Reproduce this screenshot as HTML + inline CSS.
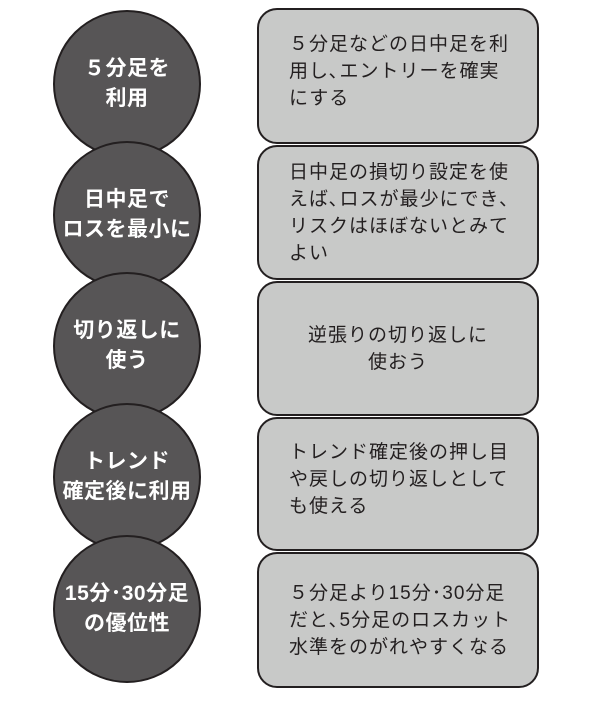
<!DOCTYPE html>
<html><head><meta charset="utf-8"><style>
body{margin:0;width:600px;height:714px;background:#fff;position:relative;overflow:hidden;font-family:"Liberation Sans","Noto Sans CJK JP",sans-serif;}
.c{position:absolute;left:53px;width:144px;height:144px;border-radius:50%;background:#575556;border:2px solid #231f20;color:#fff;font-weight:bold;font-size:21px;line-height:30px;display:flex;align-items:center;justify-content:center;text-align:center;letter-spacing:0.5px;white-space:nowrap}
.b{position:absolute;left:257px;width:282px;border:2px solid #231f20;border-radius:20px;background:#c8c9c8;color:#231f20;font-size:19px;line-height:27px;box-sizing:border-box;padding:0 0 0 30px;display:flex;align-items:center;letter-spacing:1px;white-space:nowrap}
</style></head><body>
<div class="b" style="top:8px;height:136px;padding-bottom:10px"><div>５分足などの日中足を利<br>用し､エントリーを確実<br>にする</div></div>
<div class="b" style="top:145px;height:135px"><div>日中足の損切り設定を使<br>えば､ロスが最少にでき､<br>リスクはほぼないとみて<br>よい</div></div>
<div class="b" style="top:281px;height:135px;justify-content:center;text-align:center;padding:0"><div>逆張りの切り返しに<br>使おう</div></div>
<div class="b" style="top:417px;height:134px;padding-bottom:10px"><div>トレンド確定後の押し目<br>や戻しの切り返しとして<br>も使える</div></div>
<div class="b" style="top:552px;height:136px"><div>５分足より15分･30分足<br>だと､5分足のロスカット<br>水準をのがれやすくなる</div></div>
<div class="c" style="top:10px">５分足を<br>利用</div>
<div class="c" style="top:141px">日中足で<br>ロスを最小に</div>
<div class="c" style="top:272px">切り返しに<br>使う</div>
<div class="c" style="top:403px">トレンド<br>確定後に利用</div>
<div class="c" style="top:535px">15分･30分足<br>の優位性</div>
</body></html>
